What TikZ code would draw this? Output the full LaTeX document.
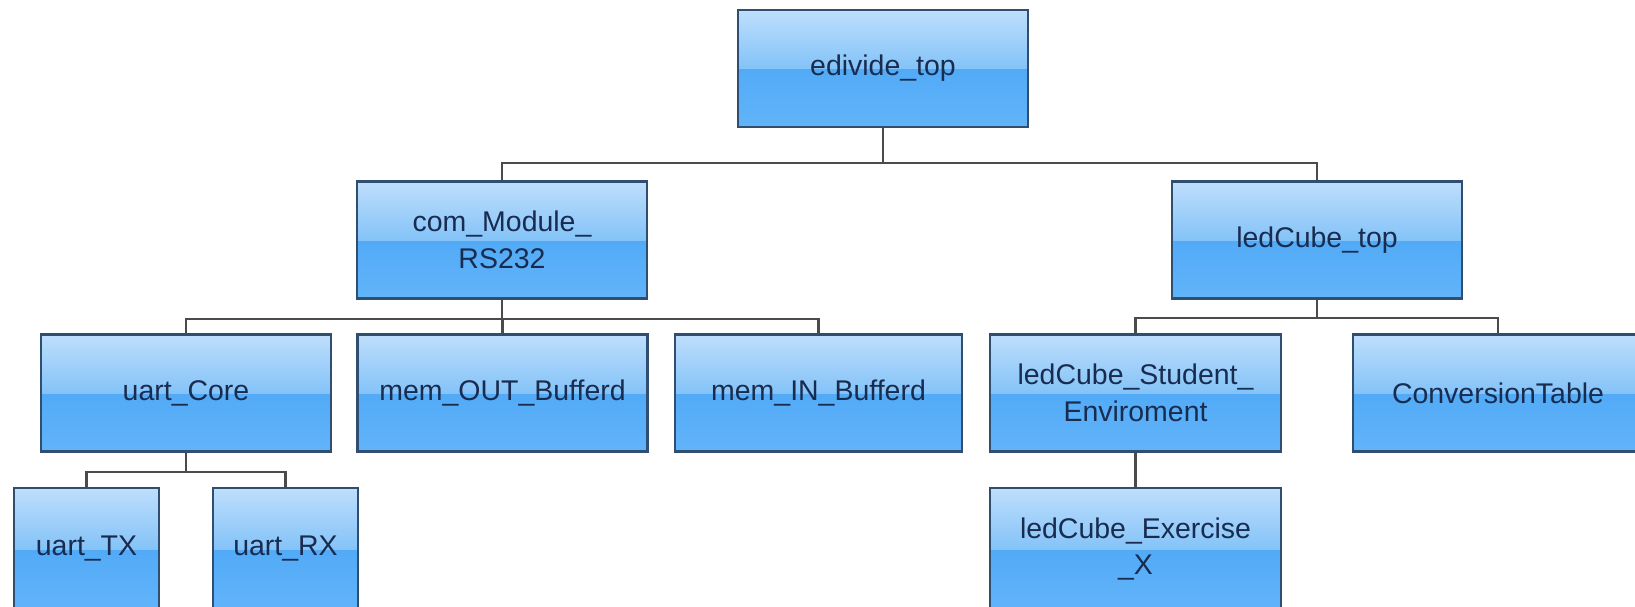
\documentclass[tikz,border=0pt]{standalone}
\usepackage{fontspec}
\setmainfont{Liberation Sans}
\usepackage{tikz}

\definecolor{glosstop}{RGB}{190,222,252}
\definecolor{glossmid}{RGB}{132,195,248}
\definecolor{glosslow}{RGB}{66,160,244}
\definecolor{glossbot}{RGB}{98,180,249}
\definecolor{boxline}{RGB}{48,78,112}
\definecolor{boxtext}{RGB}{24,44,80}
\definecolor{wire}{RGB}{75,75,75}

\begin{document}
\begin{tikzpicture}[line width = 0.6pt,
                    module/.style = {rectangle, draw = boxline, text = boxtext, align = center,
                                     minimum width = 2.9cm, minimum height = 1.17cm, inner sep = 1pt,
                                     font = \fontsize{8.1}{10.5}\selectfont,
                                     path picture = {
                                       \shade[top color = glosslow, bottom color = glossbot]
                                         (path picture bounding box.west) rectangle (path picture bounding box.south east);
                                       \shade[top color = glosstop, bottom color = glossmid]
                                         (path picture bounding box.north west) rectangle (path picture bounding box.east);
                                     }},
                    small/.style = {module, minimum width = 1.45cm},
                    wire/.style = {draw = wire}]

\useasboundingbox (0,0) rectangle (16.35,-6.06);

% top level
\node [module] (edivide) at (8.83,-0.685) {edivide\_top};

% second level
\node [module] (com) at (5.02,-2.40) {com\_Module\_\\RS232};
\node [module] (ledtop) at (13.17,-2.40) {ledCube\_top};

% third level
\node [module] (core) at (1.86,-3.93) {uart\_Core};
\node [module] (memout) at (5.025,-3.93) {mem\_OUT\_Bufferd};
\node [module, minimum width = 2.87cm] (memin) at (8.185,-3.93) {mem\_IN\_Bufferd};
\node [module, minimum width = 2.91cm] (student) at (11.355,-3.93) {ledCube\_Student\_\\Enviroment};
\node [module] (conv) at (14.98,-3.93) {ConversionTable};

% fourth level
\node [small, minimum height = 1.22cm] (tx) at (0.865,-5.49) {uart\_TX};
\node [small, minimum height = 1.22cm] (rx) at (2.855,-5.49) {uart\_RX};
\node [module, minimum width = 2.91cm, minimum height = 1.22cm] (exercise) at (11.355,-5.49) {ledCube\_Exercise\\\_X};

\draw [wire] (edivide.south) -- ++(0,-0.35) -| (com.north);
\draw [wire] (edivide.south) -- ++(0,-0.35) -| (ledtop.north);

\draw [wire] (com.south) -- ++(0,-0.19) -| (core.north);
\draw [wire] (com.south) -- ++(0,-0.19) -| (memout.north);
\draw [wire] (com.south) -- ++(0,-0.19) -| (memin.north);

\draw [wire] (ledtop.south) -- ++(0,-0.18) -| (student.north);
\draw [wire] (ledtop.south) -- ++(0,-0.18) -| (conv.north);

\draw [wire] (core.south) -- ++(0,-0.19) -| (tx.north);
\draw [wire] (core.south) -- ++(0,-0.19) -| (rx.north);

\draw [wire] (student.south) -- (exercise.north);
\end{tikzpicture}
\end{document}
